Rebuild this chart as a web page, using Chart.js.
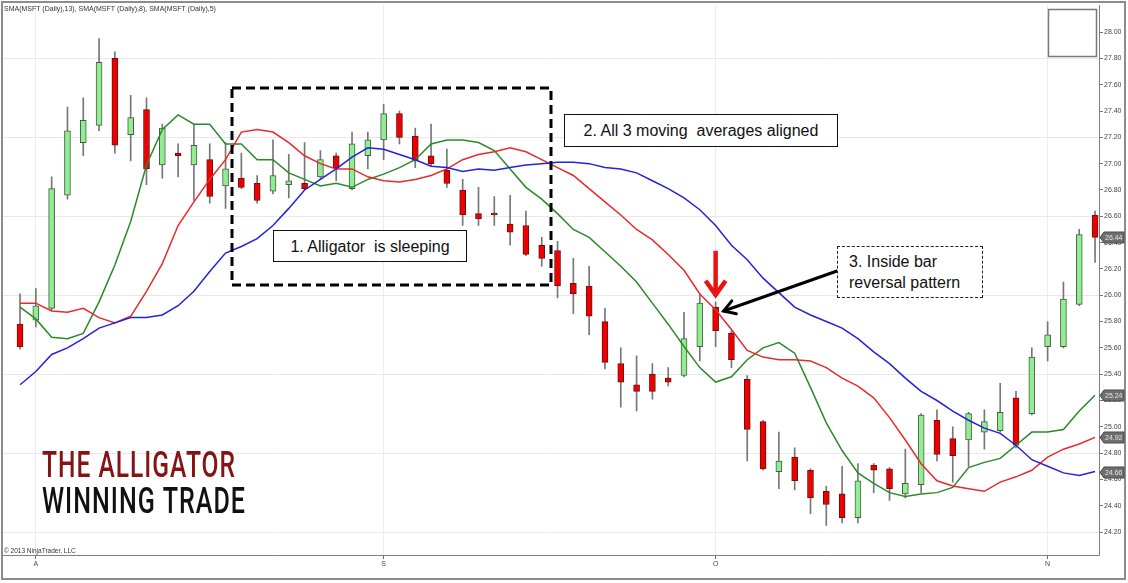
<!DOCTYPE html>
<html><head><meta charset="utf-8">
<script src="https://cdn.jsdelivr.net/npm/chart.js@4.4.1/dist/chart.umd.min.js"></script>
<style>
html,body{margin:0;padding:0;background:#fff;}
#wrap{position:relative;width:1128px;height:583px;overflow:hidden;font-family:"Liberation Sans",Arial,sans-serif;}
#chart{position:absolute;left:0;top:0;}
.note{position:absolute;box-sizing:border-box;background:#fff;color:#111;font-size:16px;white-space:pre;line-height:21px;}
#n1{left:273px;top:230px;width:194px;height:32px;border:1.5px solid #111;display:flex;align-items:center;justify-content:center;}
#n2{left:564px;top:114px;width:274px;height:33px;border:1.5px solid #111;display:flex;align-items:center;justify-content:center;}
#n3{left:837px;top:246px;width:146px;height:52px;border:1px dashed #222;padding:4px 0 0 11px;}
#legend{position:absolute;left:4px;top:5px;font-size:7px;color:#333;white-space:nowrap;}
#copy{position:absolute;left:4px;top:547px;font-size:6.5px;color:#333;white-space:nowrap;}
.title{position:absolute;left:42px;font-family:Roboto,"Liberation Sans",sans-serif;font-weight:500;font-size:36px;line-height:36px;letter-spacing:1.5px;white-space:nowrap;transform-origin:0 0;}
#t1{top:447px;color:#861313;}
#t2{top:483px;color:#111;}
</style></head><body>
<div id="wrap">
<canvas id="chart" width="1128" height="583"></canvas>
<div id="legend">SMA(MSFT (Daily),13), SMA(MSFT (Daily),8), SMA(MSFT (Daily),5)</div>
<div id="copy">© 2013 NinjaTrader, LLC</div>
<div class="note" id="n1">1. Alligator  is sleeping</div>
<div class="note" id="n2">2. All 3 moving  averages aligned</div>
<div class="note" id="n3">3. Inside bar
reversal pattern</div>
<div class="title" id="t1">THE ALLIGATOR</div>
<div class="title" id="t2">WINNING TRADE</div>
</div>
<script>
// ---- data (bar index 0..68, daily MSFT) ----
const opens = [25.78,25.81,25.90,26.76,27.16,27.29,27.80,27.22,27.41,26.99, 27.08,26.99,27.03,26.83,26.89,26.85,26.79,26.84,26.85,26.90, 27.06,26.81,27.06,27.18,27.38,27.21,27.06,26.95,26.80,26.62, 26.62,26.54,26.53,26.38,26.34,26.09,26.07,25.80,25.48,25.32, 25.40,25.37,25.39,25.61,25.91,25.71,25.36,25.04,24.66,24.77, 24.67,24.51,24.49,24.31,24.71,24.68,24.49,24.56,25.05,24.91, 24.90,24.96,24.97,25.22,25.10,25.61,25.61,25.93,26.61];
const highs = [26.01,26.05,26.90,27.43,27.50,27.95,27.85,27.52,27.50,27.30, 27.15,27.30,27.15,27.16,27.08,26.91,27.18,27.07,27.16,27.10, 27.08,27.24,27.24,27.45,27.40,27.27,27.30,27.11,26.88,26.82, 26.75,26.76,26.64,26.44,26.41,26.28,26.22,25.90,25.60,25.54, 25.48,25.45,25.87,26.01,25.95,25.73,25.39,25.05,24.96,24.84, 24.68,24.55,24.70,24.72,24.72,24.69,24.83,25.10,25.13,25.00, 25.11,25.13,25.33,25.27,25.60,25.80,26.10,26.50,26.64];
const lows = [25.59,25.76,25.88,26.73,27.06,27.25,27.08,27.02,26.84,26.89, 26.90,26.72,26.70,26.66,26.81,26.70,26.77,26.74,26.80,26.88, 26.87,26.80,26.96,27.03,27.15,26.97,26.98,26.82,26.53,26.53, 26.53,26.38,26.30,26.22,25.98,25.86,25.70,25.44,25.15,25.12, 25.21,25.31,25.38,25.50,25.61,25.45,24.74,24.67,24.53,24.52, 24.34,24.25,24.27,24.27,24.50,24.44,24.46,24.50,24.74,24.58, 24.70,24.83,24.96,24.84,25.09,25.50,25.60,25.92,26.25];
const closes = [25.61,25.92,26.81,27.25,27.33,27.77,27.14,27.35,26.96,27.27, 27.06,27.14,26.75,26.96,26.82,26.72,26.91,26.87,26.81,27.03, 26.97,27.15,27.18,27.38,27.20,27.02,27.00,26.85,26.61,26.58, 26.61,26.48,26.31,26.28,26.07,26.01,25.84,25.49,25.34,25.27, 25.27,25.34,25.67,25.94,25.73,25.51,24.98,24.68,24.74,24.59, 24.46,24.41,24.31,24.59,24.67,24.53,24.57,25.09,24.79,24.78, 25.10,25.04,25.11,24.86,25.53,25.70,25.97,26.46,26.44];
const sma13 = [25.32,25.42,25.55,25.60,25.67,25.75,25.79,25.83,25.83,25.85, 25.92,26.03,26.18,26.32,26.37,26.43,26.53,26.66,26.80,26.88, 26.96,27.05,27.12,27.11,27.07,27.03,26.98,26.97,26.94,26.96, 26.95,26.97,26.99,27.00,27.01,27.01,27.00,26.97,26.96,26.93, 26.87,26.81,26.74,26.65,26.53,26.38,26.27,26.13,26.02,25.91, 25.85,25.80,25.75,25.67,25.57,25.48,25.37,25.27,25.20,25.12, 25.05,24.99,24.95,24.86,24.75,24.70,24.65,24.63,24.66];
const sma8 = [25.94,25.94,25.88,25.87,25.90,25.83,25.79,25.84,26.03,26.24, 26.53,26.71,26.88,27.03,27.24,27.26,27.24,27.16,27.06,27.00, 26.96,26.96,26.90,26.87,26.86,26.88,26.91,26.96,27.03,27.07, 27.09,27.12,27.09,27.03,26.97,26.91,26.81,26.71,26.61,26.50, 26.42,26.31,26.19,26.01,25.89,25.74,25.58,25.53,25.51,25.51, 25.50,25.45,25.37,25.31,25.22,25.07,24.90,24.72,24.59,24.55, 24.53,24.51,24.58,24.62,24.67,24.77,24.83,24.87,24.92];
const sma5 = [25.91,25.82,25.68,25.67,25.71,25.95,26.23,26.56,26.99,27.26, 27.37,27.30,27.30,27.15,27.15,27.03,27.03,26.93,26.88,26.83, 26.85,26.82,26.88,26.92,26.97,27.03,27.15,27.18,27.18,27.16, 27.10,26.96,26.82,26.73,26.62,26.50,26.44,26.33,26.22,26.10, 25.94,25.78,25.61,25.45,25.34,25.38,25.51,25.60,25.64,25.56, 25.30,25.03,24.82,24.65,24.57,24.50,24.47,24.49,24.50,24.54, 24.69,24.73,24.76,24.86,24.96,24.96,24.98,25.12,25.24];
const monthTickIndex = [1, 23, 44, 65];
const monthTickLabels = ['A', 'S', 'O', 'N'];
const priceTicks = [24.2,24.4,24.6,24.8,25.0,25.2,25.4,25.6,25.8,26.0,26.2,26.4,26.6,26.8,27.0,27.2,27.4,27.6,27.8,28.0];
const gridPrices = [24.2,24.8,25.4,26.0,26.6,27.2,27.8];
const signalBar = 44;

Chart.defaults.font.family = '"Liberation Sans", Arial, sans-serif';

const up = i => closes[i] >= opens[i];
const wickData = highs.map((h,i)=>({x:i, y:[lows[i], h]}));
const bodyData = opens.map((o,i)=>({x:i, y:[o, closes[i]]}));
const lineData = arr => arr.map((v,i)=>({x:i, y:v}));

const overlay = {
  id: 'overlay',
  beforeDraw(chart){
    const c = chart.ctx; c.save(); c.fillStyle='#fff'; c.fillRect(0,0,chart.width,chart.height); c.restore();
  },
  afterDraw(chart){
    const ctx = chart.ctx, xs = chart.scales.x, ys = chart.scales.y, ca = chart.chartArea;
    ctx.save();
    // outer frame
    ctx.strokeStyle = '#8c8c8c'; ctx.lineWidth = 2;
    ctx.strokeRect(2, 2, 1123, 577);
    // top-right empty box
    ctx.strokeStyle = '#7a7a7a'; ctx.lineWidth = 1.5;
    ctx.strokeRect(1048.5, 9.5, 48, 47);
    // dashed "sleeping" box
    ctx.strokeStyle = '#000'; ctx.lineWidth = 3; ctx.setLineDash([9,5]);
    ctx.strokeRect(232, 88, 319, 197);
    ctx.setLineDash([]);
    // black arrow to inside bar
    const bx = xs.getPixelForValue(signalBar);
    const tip = {x: bx + 8, y: 311}, start = {x: 837, y: 271};
    ctx.strokeStyle = '#000'; ctx.lineWidth = 3; ctx.lineCap = 'round';
    ctx.beginPath(); ctx.moveTo(start.x, start.y); ctx.lineTo(tip.x, tip.y); ctx.stroke();
    const ang = Math.atan2(start.y - tip.y, start.x - tip.x);
    ctx.beginPath();
    ctx.moveTo(tip.x + 13*Math.cos(ang - 0.55), tip.y + 13*Math.sin(ang - 0.55));
    ctx.lineTo(tip.x, tip.y);
    ctx.lineTo(tip.x + 13*Math.cos(ang + 0.55), tip.y + 13*Math.sin(ang + 0.55));
    ctx.stroke();
    // red down arrow above inside bar
    const hy = ys.getPixelForValue(highs[signalBar]);
    ctx.strokeStyle = '#ee1111'; ctx.lineWidth = 4.5; ctx.lineCap = 'butt'; ctx.lineJoin = 'miter';
    ctx.beginPath(); ctx.moveTo(bx, hy - 51); ctx.lineTo(bx, hy - 6); ctx.stroke();
    ctx.beginPath(); ctx.moveTo(bx - 10, hy - 21); ctx.lineTo(bx, hy - 7); ctx.lineTo(bx + 10, hy - 21); ctx.stroke();
    // price tags on the right axis
    const last = closes.length - 1;
    const tags = [closes[last], sma5[last], sma8[last], sma13[last]];
    ctx.font = '7px "Liberation Sans", Arial, sans-serif';
    ctx.textBaseline = 'middle'; ctx.textAlign = 'left';
    tags.forEach(v => {
      const y = Math.round(ys.getPixelForValue(v)) + 0.5;
      const xr = ca.right;
      ctx.beginPath();
      ctx.moveTo(xr + 1, y); ctx.lineTo(xr + 5, y - 5.5); ctx.lineTo(1124, y - 5.5);
      ctx.lineTo(1124, y + 5.5); ctx.lineTo(xr + 5, y + 5.5); ctx.closePath();
      ctx.fillStyle = '#6e6e6e'; ctx.fill();
      ctx.strokeStyle = '#4a4a4a'; ctx.lineWidth = 1; ctx.stroke();
      ctx.fillStyle = '#e4e4e4'; ctx.fillText(v.toFixed(2), xr + 6, y + 0.5);
    });
    ctx.restore();
  }
};

new Chart(document.getElementById('chart'), {
  type: 'bar',
  data: {
    datasets: [
      { type: 'line', label: 'SMA13', data: lineData(sma13), borderColor: '#2323dc', borderWidth: 1.5, pointRadius: 0, tension: 0, order: 0 },
      { type: 'line', label: 'SMA8', data: lineData(sma8), borderColor: '#e82a2a', borderWidth: 1.5, pointRadius: 0, tension: 0, order: 0 },
      { type: 'line', label: 'SMA5', data: lineData(sma5), borderColor: '#2a8a2a', borderWidth: 1.5, pointRadius: 0, tension: 0, order: 0 },
      { label: 'body', data: bodyData, grouped: false, barThickness: 6, minBarLength: 2,
        backgroundColor: c => up(c.dataIndex) ? '#90ee90' : '#ee0000',
        borderColor: c => up(c.dataIndex) ? '#4a5a4a' : '#6a1010', borderWidth: 1, borderSkipped: false, order: 1 },
      { label: 'wick', data: wickData, grouped: false, barThickness: 1, backgroundColor: '#777', borderWidth: 0, order: 2 }
    ]
  },
  options: {
    responsive: false, animation: false, devicePixelRatio: 1,
    layout: { padding: { left: 2, top: 2, right: 3, bottom: 4 } },
    plugins: { legend: { display: false }, tooltip: { enabled: false } },
    scales: {
      x: {
        type: 'linear', min: -1.14, max: 68.25, offset: false,
        afterBuildTicks: s => { s.ticks = monthTickIndex.map(v => ({ value: v })); },
        afterFit: s => { s.height = 24; },
        grid: { color: '#ececec', tickColor: '#666', tickLength: 4, offset: false },
        border: { color: '#808080', width: 1 },
        ticks: { autoSkip: false, maxRotation: 0, padding: 1, color: '#444', font: { size: 7 },
          callback: (v, i) => monthTickLabels[i] }
      },
      y: {
        type: 'linear', position: 'right', min: 24.026, max: 28.204,
        afterBuildTicks: s => { s.ticks = priceTicks.map(v => ({ value: v })); },
        afterFit: s => { s.width = 26; },
        grid: { color: c => gridPrices.some(g => Math.abs(g - c.tick.value) < 1e-6) ? '#e8e8e8' : 'rgba(0,0,0,0)',
          tickColor: '#777', tickLength: 4 },
        border: { color: '#808080', width: 1 },
        ticks: { padding: 1, color: '#444', font: { size: 7 }, callback: v => Number(v).toFixed(2) }
      }
    }
  },
  plugins: [overlay]
});

function fitWidth(id, w){
  const el = document.getElementById(id);
  const r = el.getBoundingClientRect().width;
  el.style.transform = 'scaleX(' + (w / r) + ')';
}
fitWidth('t1', 194);
fitWidth('t2', 204);
</script>
</body></html>
